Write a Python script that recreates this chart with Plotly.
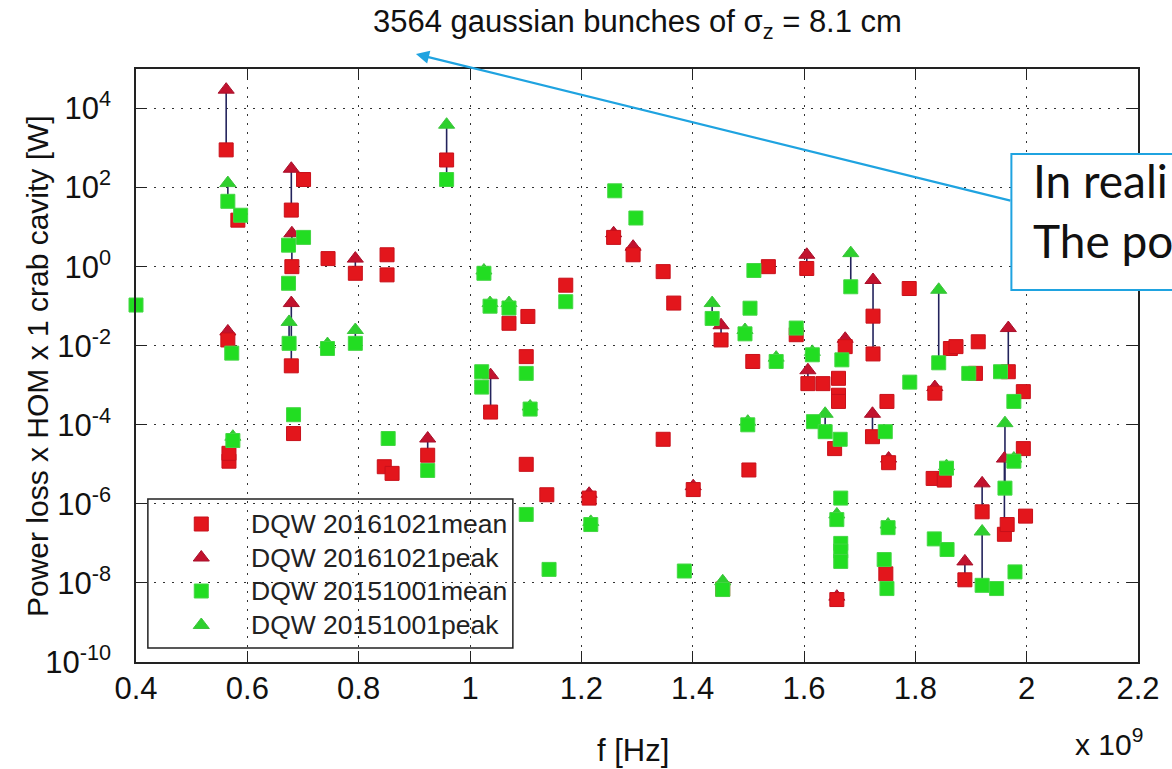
import plotly.graph_objects as go

# ---- DQW 20161021 (red): frequency [GHz], mean and peak power [W] ----
red_f = [0.562, 0.565, 0.567, 0.567, 0.583, 0.679, 0.680, 0.679, 0.683, 0.701,
         0.745, 0.794, 0.851, 0.851, 0.846, 0.860, 0.924, 0.958, 1.037, 1.070,
         1.101, 1.101, 1.104, 1.138, 1.172, 1.214, 1.258, 1.293, 1.347, 1.347,
         1.366, 1.401, 1.451, 1.454, 1.501, 1.508, 1.536, 1.586, 1.605, 1.607,
         1.634, 1.655, 1.659, 1.662, 1.662, 1.662, 1.674, 1.723, 1.724, 1.724,
         1.747, 1.749, 1.752, 1.789, 1.832, 1.835, 1.852, 1.863, 1.873, 1.889,
         1.908, 1.913, 1.920, 1.960, 1.965, 1.967, 1.994, 1.994, 1.998]
red_mean = [900, 0.014, 1.2e-5, 1.9e-5, 15, 27, 1.0, 0.0031, 6e-5, 160,
            1.6, 0.68, 2.0, 0.62, 8.7e-6, 5.9e-6, 1.7e-5, 500, 2.1e-4, 0.037,
            0.0053, 1.0e-5, 0.055, 1.7e-6, 0.34, 1.4e-6, 5.5, 2.0, 0.75, 4.3e-5,
            0.12, 2.3e-6, 0.014, 7e-9, 7.2e-6, 0.004, 1.0, 0.019, 0.9, 0.0011,
            0.0011, 2.5e-5, 3.8e-9, 0.0015, 5.6e-4, 3.9e-4, 0.0095, 5e-5, 0.0062, 0.056,
            1.7e-8, 3.9e-4, 1.1e-5, 0.28, 4.4e-6, 6.3e-4, 4.0e-6, 0.0085, 0.0095, 1.2e-8,
            0.002, 0.0126, 6.3e-7, 1.7e-7, 3e-7, 0.0022, 6.9e-4, 2.5e-5, 4.9e-7]
red_peak = [3.0e4, 0.023, None, None, None, 300, 7, 0.12, None, None,
            None, 1.6, None, None, None, None, 4.5e-5, None, 1.8e-3, None,
            None, None, None, None, None, 1.8e-6, 7, 3.2, None, None,
            None, 2.8e-6, 0.033, None, None, None, None, None, 2.0, 0.0024,
            None, None, 4.5e-9, None, None, None, 0.015, 1.9e-4, 0.46, None,
            None, None, 1.4e-5, None, None, 9e-4, None, None, None, 3.5e-8,
            None, None, 3.3e-6, 1.4e-5, None, 0.028, None, None, None]

# ---- DQW 20151001 (green): frequency [GHz], mean and peak power [W] ----
green_f = [0.400, 0.565, 0.572, 0.574, 0.588, 0.674, 0.674, 0.675, 0.683, 0.701,
           0.744, 0.794, 0.853, 0.924, 0.958, 1.021, 1.021, 1.025, 1.036, 1.070,
           1.101, 1.101, 1.108, 1.142, 1.172, 1.217, 1.260, 1.298, 1.385, 1.435,
           1.454, 1.494, 1.499, 1.503, 1.510, 1.550, 1.586, 1.615, 1.617, 1.638,
           1.659, 1.665, 1.666, 1.666, 1.666, 1.666, 1.668, 1.684, 1.744, 1.746,
           1.749, 1.751, 1.790, 1.834, 1.842, 1.856, 1.857, 1.896, 1.920, 1.946,
           1.953, 1.961, 1.977, 1.977, 1.979]
green_mean = [0.107, 45, 0.0065, 4e-5, 20, 3.5, 0.38, 0.0115, 1.8e-4, 5.5,
              0.0085, 0.0115, 4.5e-5, 7e-6, 160, 0.0022, 9e-4, 0.68, 0.10, 0.09,
              0.002, 5.4e-7, 2.5e-4, 2.2e-8, 0.13, 3.0e-7, 83, 17, 2e-8, 0.049,
              6.8e-9, 0.02, 1.0e-4, 0.089, 0.8, 0.004, 0.028, 0.0059, 1.2e-4, 6.7e-5,
              4.0e-7, 4.3e-5, 1.4e-6, 1.0e-7, 6.4e-8, 3.5e-8, 0.0044, 0.31, 3.9e-8, 6.7e-5,
              7.2e-9, 2.5e-7, 0.0012, 1.3e-7, 0.0037, 8e-6, 7e-8, 0.002, 8.7e-9, 7.2e-9,
              0.0022, 2.5e-6, 3.9e-4, 1.2e-5, 1.9e-8]
green_peak = [None, 130, None, 5e-5, None, None, None, 0.04, None, None,
              0.011, 0.025, None, None, 3900, None, None, 0.8, 0.12, 0.12,
              None, None, 2.9e-4, None, None, 3.5e-7, None, None, None, 0.12,
              1.1e-8, 0.025, 1.2e-4, None, None, 0.005, None, 0.007, None, 1.9e-4,
              5.4e-7, None, None, None, None, None, None, 2.2, None, None,
              None, 3e-7, None, None, 0.26, 9e-6, None, None, 2e-7, None,
              None, 1.1e-4, None, 1.4e-5, None]

series_names = ["DQW 20161021mean", "DQW 20161021peak", "DQW 20151001mean", "DQW 20151001peak"]

x_ticks = [0.4, 0.6, 0.8, 1.0, 1.2, 1.4, 1.6, 1.8, 2.0, 2.2]
x_labels = ["0.4", "0.6", "0.8", "1", "1.2", "1.4", "1.6", "1.8", "2", "2.2"]
y_exps = [-10, -8, -6, -4, -2, 0, 2, 4]

FONT = "Liberation Sans, Arial, Helvetica, sans-serif"
RED_SQ = "#e3161c"
RED_TRI = "#c2122e"
GREEN_SQ = "#22dd22"
GREEN_TRI = "#2ed02e"
LINK = "#23235c"

styles = [
    dict(symbol="square", size=14, color=RED_SQ, line=dict(color="#c8101a", width=1)),
    dict(symbol="triangle-up", size=14, color=RED_TRI, line=dict(color="#a8102a", width=1)),
    dict(symbol="square", size=14, color=GREEN_SQ, line=dict(color="#44d644", width=1)),
    dict(symbol="triangle-up", size=14, color=GREEN_TRI, line=dict(color="#3cc43c", width=1)),
]

# plot area in pixels
W, H = 1172, 769
L, R, T, B = 136, 1149, 69, 662


def px(x):
    return (x - L) / (R - L)


def py(y):
    return 1 - (y - T) / (B - T)


def links(f, mean, peak):
    xs, ys = [], []
    for fi, m, p in zip(f, mean, peak):
        if p is not None and m is not None:
            xs += [fi, fi, None]
            ys += [m, p, None]
    return xs, ys


def present(f, v):
    pairs = [(fi, vi) for fi, vi in zip(f, v) if vi is not None]
    return [a for a, _ in pairs], [b for _, b in pairs]


fig = go.Figure()

for f, mean, peak in [(red_f, red_mean, red_peak), (green_f, green_mean, green_peak)]:
    lx, ly = links(f, mean, peak)
    fig.add_trace(go.Scatter(x=lx, y=ly, mode="lines", line=dict(color=LINK, width=1.6),
                             showlegend=False, hoverinfo="skip", cliponaxis=False))

rpx, rpy = present(red_f, red_peak)
gpx, gpy = present(green_f, green_peak)

# peaks first, means on top of them, green dataset above red
for (xs, ys), k in [((rpx, rpy), 1), ((red_f, red_mean), 0),
                    ((gpx, gpy), 3), ((green_f, green_mean), 2)]:
    fig.add_trace(go.Scatter(x=xs, y=ys, mode="markers", name=series_names[k],
                             showlegend=False, cliponaxis=False, marker=styles[k]))

# legend box: symbols on an overlay axis measured in pixels, labels as annotations
leg_rows = [524, 557.5, 591, 625]
fig.add_trace(go.Scatter(x=[202] * 4, y=leg_rows, mode="markers", xaxis="x2", yaxis="y2",
                         showlegend=False, hoverinfo="skip", cliponaxis=False,
                         marker=dict(symbol=[s["symbol"] for s in styles], size=14,
                                     color=[s["color"] for s in styles],
                                     line=dict(color=[s["line"]["color"] for s in styles], width=1))))

axis_common = dict(
    showline=True, linecolor="#222", linewidth=1.5, mirror="ticks",
    ticks="inside", ticklen=11, tickwidth=1.3, tickcolor="#222",
    showgrid=True, gridcolor="#333", gridwidth=1, griddash="2px,7px",
    zeroline=False, tickfont=dict(family=FONT, size=31, color="#111"),
)

fig.update_xaxes(range=[0.4, 2.2], tickmode="array", tickvals=x_ticks, ticktext=x_labels,
                 ticklabelstandoff=-2, **axis_common)
fig.update_yaxes(type="log", range=[-10, 5], tickmode="array",
                 tickvals=[10.0 ** e for e in y_exps],
                 ticktext=[f"10<sup>{e}</sup>" for e in y_exps],
                 ticklabelstandoff=17, **axis_common)

blue = "#1fa3e0"
annotations = [
    dict(text="3564 gaussian bunches of σ<sub>z</sub> = 8.1 cm", xref="paper", yref="paper",
         x=0.5, y=py(24), xanchor="center", yanchor="middle", showarrow=False,
         font=dict(family=FONT, size=31, color="#111")),
    dict(text="Power loss x HOM x 1 crab cavity [W]", xref="paper", yref="paper",
         x=px(36), y=py(366), xanchor="center", yanchor="middle", textangle=-90,
         showarrow=False, font=dict(family=FONT, size=30, color="#111")),
    dict(text="f [Hz]", xref="paper", yref="paper", x=px(638), y=py(750),
         xanchor="center", yanchor="middle", showarrow=False,
         font=dict(family=FONT, size=31, color="#111")),
    dict(text="x 10<sup>9</sup>", xref="paper", yref="paper", x=px(1156), y=py(742),
         xanchor="right", yanchor="middle", showarrow=False,
         font=dict(family=FONT, size=30, color="#111")),
    dict(text="", xref="paper", yref="paper", x=px(419), y=py(54),
         ax=1015 - 419, ay=201 - 54, axref="pixel", ayref="pixel",
         showarrow=True, arrowhead=2, arrowsize=1.2, arrowwidth=2.2,
         arrowcolor=blue, standoff=0),
    dict(text="In reali<br>The po", xref="paper", yref="paper",
         x=px(1041), y=py(210), xanchor="left", yanchor="middle", align="left",
         showarrow=False,
         font=dict(family="Lato, Open Sans, sans-serif", size=46, color="#111")),
]
for name, yrow in zip(series_names, leg_rows):
    annotations.append(dict(text=name, xref="x2", yref="y2", x=250, y=yrow,
                            xanchor="left", yanchor="middle", showarrow=False,
                            font=dict(family=FONT, size=26.5, color="#222")))

fig.update_layout(
    width=W, height=H,
    margin=dict(l=L, r=W - R, t=T, b=H - B),
    paper_bgcolor="white", plot_bgcolor="white",
    font=dict(family=FONT, color="#111"),
    showlegend=False,
    xaxis2=dict(overlaying="x", range=[L, R], visible=False, fixedrange=True),
    yaxis2=dict(overlaying="y", range=[B, T], visible=False, fixedrange=True),
    shapes=[
        dict(type="rect", xref="paper", yref="paper",
             x0=px(148), x1=px(517), y0=py(648), y1=py(499),
             line=dict(color="#222", width=1.5), fillcolor="white", layer="between"),
        dict(type="rect", xref="paper", yref="paper",
             x0=px(1021), x1=px(1190), y0=py(290), y1=py(154),
             line=dict(color=blue, width=2), fillcolor="white", layer="above"),
    ],
    annotations=annotations,
)

fig.write_html("out.html")
